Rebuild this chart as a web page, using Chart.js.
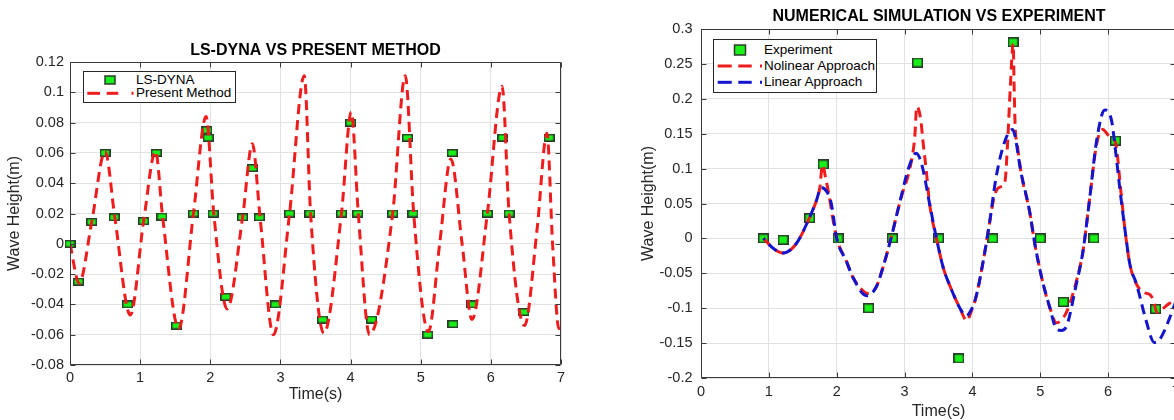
<!DOCTYPE html>
<html><head><meta charset="utf-8">
<script src="https://cdn.jsdelivr.net/npm/chart.js@4.4.1/dist/chart.umd.min.js"></script>
<style>
html,body{margin:0;padding:0;width:1174px;height:420px;overflow:hidden;background:#fff;}
.wrap{position:absolute;top:0;height:420px;}
#w1{left:0;width:631px;}
#w2{left:620px;width:638px;}
.legend{position:absolute;background:#fff;border:1px solid #262626;font-family:"Liberation Sans",Arial,sans-serif;font-size:13.5px;color:#000;box-sizing:border-box;}
.legend svg{position:absolute;left:0;top:0;}
.legend span{position:absolute;line-height:16px;white-space:nowrap;}
</style>
</head><body>
<div class="wrap" id="w1"><canvas id="c1"></canvas></div>
<div class="wrap" id="w2"><canvas id="c2"></canvas></div>

<div class="legend" style="left:83px;top:71px;width:153px;height:32px;">
  <svg width="151" height="30">
    <rect x="21" y="4" width="10" height="8" fill="#19f019" stroke="#2a3a2a" stroke-width="1.5"/>
    <g stroke="#ee1c1c" stroke-width="3">
      <line x1="3.3" y1="21.3" x2="16" y2="21.3"/>
      <line x1="22.7" y1="21.3" x2="34.3" y2="21.3"/>
      <line x1="47.5" y1="21.3" x2="49.5" y2="21.3"/>
    </g>
  </svg>
  <span style="left:52px;top:0px;">LS-DYNA</span>
  <span style="left:52px;top:13.3px;">Present Method</span>
</div>

<div class="legend" style="left:713px;top:39px;width:164px;height:54px;">
  <svg width="162" height="52">
    <rect x="20.5" y="5" width="11" height="10" fill="#19f019" stroke="#2a3a2a" stroke-width="1.5"/>
    <g stroke="#ee1c1c" stroke-width="3">
      <line x1="3.7" y1="26" x2="17.7" y2="26"/>
      <line x1="24.3" y1="26" x2="37.7" y2="26"/>
      <line x1="46" y1="26" x2="48" y2="26"/>
    </g>
    <g stroke="#1414cc" stroke-width="3">
      <line x1="3.7" y1="42.3" x2="17.7" y2="42.3"/>
      <line x1="24.3" y1="42.3" x2="37.7" y2="42.3"/>
      <line x1="46" y1="42.3" x2="48" y2="42.3"/>
    </g>
  </svg>
  <span style="left:50px;top:2px;">Experiment</span>
  <span style="left:50px;top:18px;">Nolinear Approach</span>
  <span style="left:50px;top:34.3px;">Linear Approach</span>
</div>

<script>
// ---------- Chart 1: LS-DYNA vs Present Method ----------
const lsdynaT = [0, 0.12, 0.31, 0.50, 0.63, 0.82, 1.05, 1.23, 1.31, 1.52, 1.76, 1.95, 1.97, 2.04, 2.22, 2.46, 2.60, 2.70, 2.93, 3.13, 3.42, 3.60, 3.87, 4.00, 4.10, 4.30, 4.60, 4.81, 4.89, 5.10, 5.45, 5.46, 5.73, 5.95, 6.17, 6.26, 6.47, 6.83];
const lsdynaH = [0, -0.025, 0.0145, 0.060, 0.0175, -0.040, 0.015, 0.060, 0.018, -0.054, 0.020, 0.075, 0.070, 0.020, -0.035, 0.0175, 0.050, 0.0175, -0.040, 0.020, 0.020, -0.050, 0.020, 0.080, 0.020, -0.050, 0.020, 0.070, 0.020, -0.060, 0.060, -0.053, -0.040, 0.020, 0.070, 0.020, -0.045, 0.070];

const presentT = [0, 0.13, 0.31, 0.50, 0.64, 0.86, 1.05, 1.22, 1.32, 1.55, 1.76, 1.94, 2.05, 2.24, 2.46, 2.60, 2.71, 2.90, 3.13, 3.34, 3.43, 3.62, 3.87, 4.01, 4.11, 4.27, 4.60, 4.78, 4.90, 5.11, 5.27, 5.43, 5.59, 5.73, 5.95, 6.16, 6.26, 6.48, 6.66, 6.80, 6.88, 6.97, 7.00];
const presentH = [0, -0.026, 0.0145, 0.061, 0.017, -0.047, 0.015, 0.061, 0.018, -0.056, 0.020, 0.084, 0.020, -0.043, 0.0173, 0.066, 0.0173, -0.060, 0.020, 0.111, 0.020, -0.059, 0.020, 0.087, 0.020, -0.060, 0.020, 0.111, 0.020, -0.058, 0.000, 0.056, 0.000, -0.050, 0.020, 0.104, 0.020, -0.054, 0.010, 0.073, 0.000, -0.056, -0.052];

const xTickValues = [0, 1, 2, 3, 4, 5, 6, 7];
const xTickLabels = ['0', '1', '2', '3', '4', '5', '6', '7'];
const y1TickValues = [-0.08, -0.06, -0.04, -0.02, 0, 0.02, 0.04, 0.06, 0.08, 0.1, 0.12];
const y1TickLabels = ['-0.08', '-0.06', '-0.04', '-0.02', '0', '0.02', '0.04', '0.06', '0.08', '0.1', '0.12'];

// ---------- Chart 2: Numerical simulation vs Experiment ----------
const expT = [0.92, 1.21, 1.60, 1.80, 2.02, 2.47, 2.82, 3.19, 3.50, 3.80, 4.30, 4.60, 5.00, 5.34, 5.79, 6.11, 6.70];
const expH = [0, -0.002, 0.029, 0.106, 0, -0.100, 0, 0.252, 0, -0.172, 0, 0.281, 0, -0.091, 0, 0.140, -0.101];

const nonlinT = [0.92, 1.05, 1.21, 1.40, 1.60, 1.70, 1.75, 1.79, 1.84, 1.89, 1.94, 2.00, 2.14, 2.24, 2.41, 2.47, 2.58, 2.68, 2.80, 2.90, 2.97, 3.07, 3.15, 3.18, 3.24, 3.27, 3.32, 3.37, 3.47, 3.57, 3.69, 3.81, 3.92, 3.97, 4.05, 4.16, 4.25, 4.31, 4.36, 4.42, 4.48, 4.52, 4.56, 4.60, 4.615, 4.63, 4.66, 4.72, 4.84, 4.92, 5.02, 5.14, 5.24, 5.30, 5.39, 5.53, 5.63, 5.73, 5.83, 5.92, 6.02, 6.10, 6.14, 6.17, 6.25, 6.32, 6.42, 6.54, 6.62, 6.67, 6.72, 6.80, 6.89, 7.00];
const nonlinH = [0, -0.013, -0.021, -0.008, 0.030, 0.054, 0.072, 0.105, 0.085, 0.060, 0.030, 0, -0.032, -0.056, -0.077, -0.079, -0.070, -0.042, 0, 0.040, 0.065, 0.097, 0.145, 0.189, 0.169, 0.140, 0.097, 0.049, 0, -0.042, -0.073, -0.099, -0.118, -0.108, -0.085, -0.032, 0.021, 0.055, 0.070, 0.074, 0.082, 0.140, 0.220, 0.279, 0.215, 0.160, 0.135, 0.0925, 0.040, -0.008, -0.056, -0.099, -0.121, -0.118, -0.105, -0.062, -0.018, 0.059, 0.135, 0.156, 0.146, 0.140, 0.116, 0.085, 0.011, -0.037, -0.066, -0.078, -0.081, -0.090, -0.106, -0.101, -0.094, -0.088];

const linT = [0.92, 1.05, 1.21, 1.40, 1.60, 1.70, 1.77, 1.86, 1.92, 2.00, 2.14, 2.24, 2.44, 2.58, 2.68, 2.80, 2.90, 2.97, 3.05, 3.17, 3.25, 3.37, 3.47, 3.57, 3.69, 3.81, 3.91, 3.96, 4.05, 4.16, 4.25, 4.35, 4.48, 4.59, 4.72, 4.84, 4.92, 5.02, 5.14, 5.24, 5.31, 5.39, 5.53, 5.63, 5.73, 5.83, 5.95, 6.05, 6.12, 6.17, 6.25, 6.32, 6.42, 6.56, 6.68, 6.75, 6.84, 6.91, 7.00];
const linH = [0, -0.013, -0.021, -0.008, 0.030, 0.054, 0.073, 0.066, 0.050, 0, -0.032, -0.056, -0.082, -0.070, -0.042, 0, 0.040, 0.068, 0.098, 0.122, 0.107, 0.049, 0, -0.042, -0.073, -0.099, -0.111, -0.106, -0.085, -0.032, 0.021, 0.088, 0.140, 0.156, 0.0925, 0.040, -0.008, -0.056, -0.099, -0.130, -0.132, -0.125, -0.066, -0.018, 0.059, 0.140, 0.184, 0.169, 0.116, 0.073, 0.011, -0.037, -0.066, -0.118, -0.149, -0.146, -0.130, -0.113, -0.090];

const y2TickValues = [-0.2, -0.15, -0.1, -0.05, 0, 0.05, 0.1, 0.15, 0.2, 0.25, 0.3];
const y2TickLabels = ['-0.2', '-0.15', '-0.1', '-0.05', '0', '0.05', '0.1', '0.15', '0.2', '0.25', '0.3'];

// ---------- helpers ----------
const zip = (xs, ys) => xs.map((v, i) => ({x: v, y: ys[i]}));
function makeMarker(w, h) {
  const c = document.createElement('canvas');
  c.width = w; c.height = h;
  const g = c.getContext('2d');
  g.fillStyle = '#19f019';
  g.fillRect(0, 0, w, h);
  g.strokeStyle = '#2a3a2a';
  g.lineWidth = 1.5;
  g.strokeRect(0.75, 0.75, w - 1.5, h - 1.5);
  return c;
}

Chart.defaults.font.family = '"Liberation Sans", Arial, sans-serif';
Chart.defaults.color = '#262626';

const matlabAxes = {
  id: 'matlabAxes',
  afterDraw(chart) {
    const {ctx, chartArea: a, scales} = chart;
    const xs = scales.x, ys = scales.y;
    const L = Math.round(a.left) + 0.5, R = Math.round(a.right) - 0.5;
    const T = Math.round(a.top) + 0.5, B = Math.round(a.bottom) - 0.5;
    ctx.save();
    ctx.strokeStyle = '#3a3a3a';
    ctx.lineWidth = 1;
    ctx.beginPath();
    ctx.rect(L, T, R - L, B - T);
    xs.ticks.forEach(t => {
      const p = Math.round(xs.getPixelForValue(t.value)) + 0.5;
      ctx.moveTo(p, B); ctx.lineTo(p, B - 5);
      ctx.moveTo(p, T); ctx.lineTo(p, T + 5);
    });
    ys.ticks.forEach(t => {
      const p = Math.round(ys.getPixelForValue(t.value)) + 0.5;
      ctx.moveTo(L, p); ctx.lineTo(L + 5, p);
      ctx.moveTo(R, p); ctx.lineTo(R - 5, p);
    });
    ctx.stroke();
    ctx.restore();
  }
};

function makeScales(o) {
  return {
    x: {
      type: 'linear', position: 'bottom', min: 0, max: 7,
      afterBuildTicks: s => { s.ticks = xTickValues.map(v => ({value: v})); },
      ticks: {callback: (v, i) => xTickLabels[i], font: {size: 14.5}, color: '#262626', padding: o.xTickPad, maxRotation: 0, autoSkip: false},
      grid: {color: '#e2e2e2', drawTicks: false},
      border: {display: false},
      title: {display: true, text: 'Time(s)', font: {size: 16}, color: '#262626', padding: {top: 0, bottom: o.xTitlePad}},
      afterFit: s => { s.height = o.xHeight; }
    },
    y: {
      type: 'linear', position: 'left', min: o.yMin, max: o.yMax,
      afterBuildTicks: s => { s.ticks = o.yVals.map(v => ({value: v})); },
      ticks: {callback: (v, i) => o.yLabels[i], font: {size: 14.5}, color: '#262626', padding: o.yTickPad, autoSkip: false},
      grid: {color: '#e2e2e2', drawTicks: false},
      border: {display: false},
      title: {display: true, text: 'Wave Height(m)', font: {size: 16}, color: '#262626', padding: {top: o.yTitlePad, bottom: 0}},
      afterFit: s => { s.width = o.yWidth; }
    },
    yR: {
      type: 'linear', position: 'right', display: true,
      grid: {display: false}, border: {display: false}, ticks: {display: false},
      afterFit: s => { s.width = o.rightWidth; }
    }
  };
}

// Chart 1
new Chart(document.getElementById('c1'), {
  type: 'scatter',
  data: {
    datasets: [
      {label: 'LS-DYNA', data: zip(lsdynaT, lsdynaH), xAxisID: 'x', yAxisID: 'y', showLine: false,
       pointStyle: makeMarker(11, 8), pointRadius: 5, order: 3, clip: false},
      {label: 'Present Method', data: zip(presentT, presentH), xAxisID: 'x', yAxisID: 'y', showLine: true,
       borderColor: '#ee1c1c', borderWidth: 3, borderDash: [10, 6], pointRadius: 0,
       cubicInterpolationMode: 'monotone', order: 1}
    ]
  },
  options: {
    responsive: true, maintainAspectRatio: false, animation: false, events: [],
    layout: {padding: 0},
    plugins: {
      legend: {display: false}, tooltip: {enabled: false},
      title: {display: true, text: 'LS-DYNA VS PRESENT METHOD', color: '#000',
              font: {size: 16, weight: 'bold'}, padding: {top: 41, bottom: 1.8}}
    },
    scales: makeScales({xTickPad: 4.3, xTitlePad: 15.4, xHeight: 55, yMin: -0.08, yMax: 0.12,
      yVals: y1TickValues, yLabels: y1TickLabels, yTickPad: 6, yTitlePad: 5.4, yWidth: 70, rightWidth: 70})
  },
  plugins: [matlabAxes]
});

// Chart 2
new Chart(document.getElementById('c2'), {
  type: 'scatter',
  data: {
    datasets: [
      {label: 'Experiment', data: zip(expT, expH), xAxisID: 'x', yAxisID: 'y', showLine: false,
       pointStyle: makeMarker(11, 10), pointRadius: 5, order: 3, clip: false},
      {label: 'Nolinear Approach', data: zip(nonlinT, nonlinH), xAxisID: 'x', yAxisID: 'y', showLine: true,
       borderColor: '#ee1c1c', borderWidth: 3, borderDash: [10, 6], borderDashOffset: 0, pointRadius: 0,
       cubicInterpolationMode: 'monotone', order: 2},
      {label: 'Linear Approach', data: zip(linT, linH), xAxisID: 'x', yAxisID: 'y', showLine: true,
       borderColor: '#1414cc', borderWidth: 3, borderDash: [10, 6], borderDashOffset: 8, pointRadius: 0,
       cubicInterpolationMode: 'monotone', order: 1}
    ]
  },
  options: {
    responsive: true, maintainAspectRatio: false, animation: false, events: [],
    layout: {padding: 0},
    plugins: {
      legend: {display: false}, tooltip: {enabled: false},
      title: {display: true, text: 'NUMERICAL SIMULATION VS EXPERIMENT', color: '#000',
              font: {size: 16, weight: 'bold'}, padding: {top: 7, bottom: 2.8}}
    },
    scales: makeScales({xTickPad: 5.3, xTitlePad: -1, xHeight: 42, yMin: -0.2, yMax: 0.3,
      yVals: y2TickValues, yLabels: y2TickLabels, yTickPad: 8.5, yTitlePad: 19.4, yWidth: 81, rightWidth: 82})
  },
  plugins: [matlabAxes]
});
</script>
</body></html>
